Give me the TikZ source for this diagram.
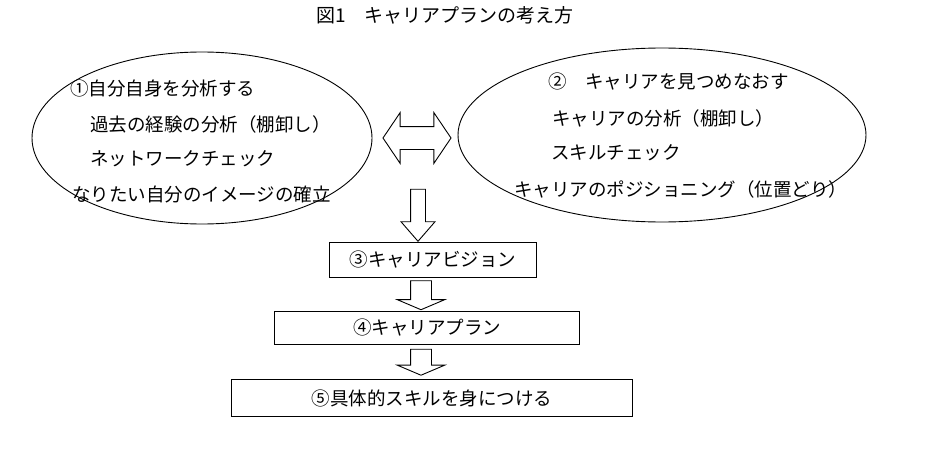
\documentclass[tikz,border=0pt]{standalone}
\usepackage{fontspec}
\setmainfont{Noto Sans CJK JP}
\usetikzlibrary{shapes.geometric, shapes.arrows}

\begin{document}
\begin{tikzpicture}[x=1pt, y=-1pt, font=\fontsize{18.5}{20}\selectfont,
    textline/.style={anchor=west, inner sep=0pt},
    stagebox/.style={rectangle, draw, line width=1.1pt, inner sep=0pt},
    blockarrow/.style={single arrow, draw, line width=0.9pt, rotate=-90, inner xsep=0pt}]

  \useasboundingbox (0,0) rectangle (932,460);

  % Draw the title
  \node (title) [font=\fontsize{19}{20}\selectfont] at (445,15) {図1　キャリアプランの考え方};

  % Create the ellipses
  \node (self) [ellipse, draw, line width=0.9pt, minimum width=340pt, minimum height=172pt] at (202,138) {};
  \node (career) [ellipse, draw, line width=0.9pt, minimum width=408pt, minimum height=174pt] at (662,135) {};

  % Lines of the left ellipse
  \node (self1) [textline] at (70,88) {①自分自身を分析する};
  \node (self2) [textline] at (90,124) {過去の経験の分析（棚卸し）};
  \node (self3) [textline] at (90,159) {ネットワークチェック};
  \node (self4) [textline] at (72,194) {なりたい自分のイメージの確立};

  % Lines of the right ellipse
  \node (career1) [textline] at (548,82) {②　キャリアを見つめなおす};
  \node (career2) [textline] at (552,118) {キャリアの分析（棚卸し）};
  \node (career3) [textline] at (551,153) {スキルチェック};
  \node (career4) [textline] at (514,189) {キャリアのポジショニング（位置どり）};

  % Create the stages
  \node (vision) [stagebox, minimum width=207pt, minimum height=35pt] at (433,260) {③キャリアビジョン};
  \node (plan) [stagebox, minimum width=305pt, minimum height=33pt] at (427,328) {④キャリアプラン};
  \node (skill) [stagebox, minimum width=401pt, minimum height=37pt] at (432,398) {⑤具体的スキルを身につける};

  % Block arrows
  \node (both) [double arrow, draw, line width=0.9pt, inner xsep=0pt, inner ysep=11pt,
    double arrow head extend=14pt, double arrow tip angle=112,
    minimum height=68pt] at (417,138) {};
  \node (tovision) [blockarrow, inner ysep=7pt, single arrow head extend=9.5pt,
    single arrow tip angle=82, minimum height=52pt] at (418,211) {};
  \node (toplan) [blockarrow, inner ysep=10pt, single arrow head extend=13.5pt,
    single arrow tip angle=134, minimum height=29pt] at (421,293) {};
  \node (toskill) [blockarrow, inner ysep=10pt, single arrow head extend=13.5pt,
    single arrow tip angle=134, minimum height=26pt] at (421,360) {};
\end{tikzpicture}
\end{document}
